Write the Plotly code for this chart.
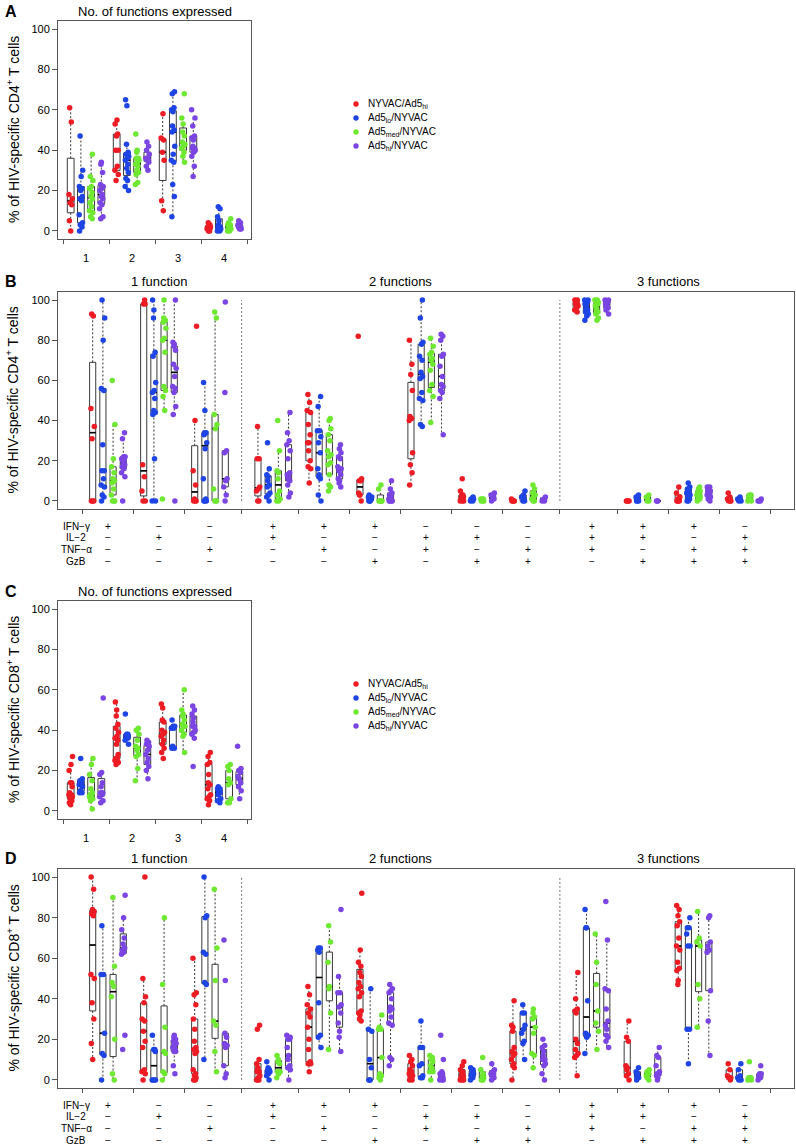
import numpy as np
import plotly.graph_objects as go

FONT = "Liberation Sans, Arial, Helvetica, sans-serif"

# ---------------- data ----------------
series_names = ["NYVAC/Ad5<sub>hi</sub>", "Ad5<sub>lo</sub>/NYVAC",
                "Ad5<sub>med</sub>/NYVAC", "Ad5<sub>hi</sub>/NYVAC"]
series_colors = ["#EC1C24", "#1F44E4", "#6FE831", "#7B45E2"]

n_functions = ["1", "2", "3", "4"]
section_titles = ["1 function", "2 functions", "3 functions"]
section_sizes = [3, 6, 4]
cytokines = ["IFN−γ", "IL−2", "TNF−α", "GzB"]
combo_IFNg = ["+", "−", "−", "+", "+", "+", "−", "−", "−", "+", "+", "+", "−"]
combo_IL2 = ["−", "+", "−", "+", "−", "−", "+", "+", "−", "+", "+", "−", "+"]
combo_TNFa = ["−", "−", "+", "−", "+", "−", "+", "−", "+", "+", "−", "+", "+"]
combo_GzB = ["−", "−", "−", "−", "−", "+", "−", "+", "+", "−", "+", "+", "+"]

# Panel A: CD4, number of functions
A_NYVAC_Ad5hi = [[0, 5, 13, 14, 16, 18, 54, 61], [25, 28, 30, 32, 40, 40, 47, 48, 53, 55],
                 [10, 15, 35, 39, 45, 46, 58], [0, 0, 1, 1, 2, 2, 3, 4]]
A_Ad5lo_NYVAC = [[0, 2, 3, 4, 8, 15, 16, 17, 20, 21, 22, 27, 30, 47],
                 [20, 22, 25, 26, 29, 31, 33, 35, 36, 37, 38, 39, 43, 62, 65],
                 [7, 17, 23, 34, 35, 38, 42, 49, 50, 52, 59, 60, 61, 68, 69],
                 [0, 0, 1, 1, 2, 2, 3, 5, 7, 11, 12]]
A_Ad5med_NYVAC = [[6, 7, 9, 10, 12, 14, 16, 17, 19, 21, 22, 25, 27, 38],
                  [23, 24, 28, 29, 30, 32, 33, 34, 35, 36, 36, 39, 40, 48],
                  [34, 37, 39, 41, 42, 43, 44, 47, 49, 53, 56, 68],
                  [0, 0, 1, 1, 2, 2, 2, 3, 3, 4, 6]]
A_Ad5hi_NYVAC = [[6, 7, 11, 13, 14, 16, 17, 18, 20, 21, 22, 23, 29, 33, 34],
                 [30, 32, 34, 35, 35, 36, 36, 38, 40, 42, 44],
                 [27, 32, 37, 39, 40, 41, 41, 42, 45, 46, 47, 52, 56, 60],
                 [1, 1, 2, 2, 2, 3, 3, 4, 5]]

# Panel B: CD4, functional combinations
B_NYVAC_Ad5hi = [[0, 0, 0, 31, 37, 46, 92, 93], [0, 0, 5, 12, 18, 98, 98, 100],
                 [0, 0, 0, 1, 8, 15, 40, 87], [0, 0, 5, 6, 7, 21, 21, 37],
                 [9, 16, 17, 20, 25, 29, 29, 33, 38, 44, 45, 49, 53],
                 [0, 3, 3, 4, 10, 10, 11, 82], [8, 14, 18, 24, 40, 41, 42, 55, 63, 68, 80],
                 [0, 0, 0, 1, 2, 3, 3, 5, 11], [0, 0, 0, 0, 1],
                 [94, 95, 96, 97, 98, 98, 99, 99, 100, 100], [0, 0, 0, 0],
                 [0, 0, 0, 0, 1, 2, 4, 7], [0, 0, 0, 1, 2, 4]]
B_Ad5lo_NYVAC = [[0, 2, 3, 7, 8, 11, 15, 15, 28, 55, 56, 80, 91, 100],
                 [0, 0, 21, 43, 44, 45, 51, 54, 55, 59, 72, 74, 91, 95, 100],
                 [0, 0, 0, 1, 11, 26, 29, 33, 34, 34, 45, 59],
                 [0, 2, 3, 4, 7, 8, 10, 12, 13, 16, 29],
                 [0, 3, 11, 12, 13, 16, 24, 29, 32, 35, 35, 47, 52],
                 [0, 0, 0, 1, 1, 2, 2, 2, 3],
                 [37, 38, 50, 51, 54, 61, 62, 64, 70, 72, 78, 79, 91, 100],
                 [0, 0, 1, 1, 1, 2], [0, 0, 1, 2, 3, 5],
                 [90, 92, 93, 94, 95, 96, 97, 98, 99, 99, 100, 100],
                 [0, 0, 0, 1, 2, 3], [0, 0, 1, 2, 3, 4, 5, 6, 7, 9], [0, 0, 1, 2]]
B_Ad5med_NYVAC = [[0, 0, 0, 3, 6, 9, 10, 11, 14, 17, 21, 38, 60],
                  [1, 45, 52, 55, 57, 74, 80, 81, 86, 89, 90, 91, 100],
                  [0, 0, 0, 6, 36, 38, 43, 91, 94], [0, 0, 1, 3, 5, 11, 14, 15, 25, 40],
                  [5, 7, 8, 13, 18, 19, 22, 23, 25, 30, 33, 36, 40, 41],
                  [0, 0, 0, 0, 0, 6, 8],
                  [39, 52, 55, 58, 65, 68, 70, 71, 73, 74, 77, 81],
                  [0, 0, 0, 1, 1, 1], [0, 0, 1, 2, 3, 4, 6, 8],
                  [90, 91, 93, 94, 95, 96, 97, 98, 98, 99, 100, 100],
                  [0, 0, 1, 2, 3], [0, 1, 1, 2, 3, 4, 4, 5, 6, 7], [0, 0, 1, 2, 3, 3]]
B_Ad5hi_NYVAC = [[0, 12, 14, 16, 17, 18, 19, 20, 21, 22, 22, 31, 34],
                 [0, 43, 47, 54, 56, 57, 62, 66, 68, 75, 77, 78, 79, 100],
                 [0, 3, 7, 10, 11, 24, 25, 54, 99],
                 [2, 4, 8, 10, 11, 12, 13, 14, 21, 25, 28, 30, 34, 44],
                 [7, 9, 10, 11, 13, 15, 16, 17, 21, 22, 24, 26, 28],
                 [0, 0, 0, 0, 1, 2, 3, 4, 6, 10],
                 [33, 51, 54, 55, 57, 58, 62, 67, 72, 73, 80, 82, 83],
                 [0, 1, 1, 2, 3, 3, 4], [0, 0, 1, 2],
                 [93, 95, 96, 97, 98, 98, 99, 99, 100, 100], [0, 0, 0],
                 [0, 1, 2, 3, 4, 5, 5, 6, 7, 7], [0, 0, 0, 1]]

# Panel C: CD8, number of functions
C_NYVAC_Ad5hi = [[3, 4, 5, 6, 7, 8, 8, 9, 12, 14, 14, 20, 23, 27],
                 [23, 24, 25, 26, 26, 28, 33, 35, 36, 37, 39, 41, 43, 47, 50, 54],
                 [26, 29, 31, 33, 35, 37, 38, 39, 40, 44, 45, 51, 53],
                 [3, 5, 6, 7, 8, 11, 13, 14, 18, 23, 24, 27, 29]]
C_Ad5lo_NYVAC = [[9, 9, 10, 12, 13, 14, 15, 16, 26], [33, 35, 36, 37, 37, 38, 38, 48],
                 [31, 31, 32, 41, 41, 42, 42, 45], [4, 5, 5, 6, 8, 9, 10, 10, 11, 11, 12]]
C_Ad5med_NYVAC = [[1, 5, 6, 7, 8, 8, 9, 11, 15, 18, 23, 26],
                  [15, 21, 27, 28, 30, 31, 32, 35, 38, 40, 41],
                  [29, 37, 38, 40, 42, 42, 43, 45, 47, 48, 50, 60],
                  [4, 4, 6, 13, 14, 16, 20, 22, 23]]
C_Ad5hi_NYVAC = [[4, 5, 7, 8, 9, 9, 12, 14, 18, 19, 56],
                 [16, 20, 22, 24, 26, 28, 30, 32, 33, 34, 35],
                 [22, 36, 38, 39, 40, 42, 42, 44, 46, 48, 50, 52],
                 [6, 10, 12, 14, 16, 16, 17, 19, 20, 21, 32]]

# Panel D: CD8, functional combinations
D_NYVAC_Ad5hi = [[10, 18, 30, 38, 50, 52, 81, 82, 83, 84, 94, 100],
                 [0, 3, 4, 5, 16, 19, 24, 29, 30, 38, 41, 50, 100],
                 [0, 0, 1, 2, 3, 5, 13, 14, 15, 16, 19, 25, 30, 37, 42, 43, 60],
                 [0, 0, 0, 1, 2, 4, 4, 5, 6, 8, 10, 25, 27],
                 [4, 8, 8, 9, 15, 20, 26, 31, 33, 35, 37, 42, 46],
                 [29, 30, 32, 33, 34, 41, 43, 45, 46, 48, 51, 53, 56, 58, 64, 92],
                 [0, 0, 1, 2, 3, 4, 5, 7, 9, 10, 12], [0, 0, 0, 1, 2, 3, 4, 5, 7, 9],
                 [0, 6, 7, 8, 10, 12, 13, 14, 16, 24, 26, 27, 39],
                 [2, 11, 12, 13, 15, 18, 20, 33, 34, 35, 40, 53],
                 [0, 2, 3, 5, 6, 7, 19, 21, 29],
                 [47, 49, 54, 55, 58, 64, 66, 70, 76, 78, 81, 84, 86], [0, 1, 1, 2, 5, 8]]
D_Ad5lo_NYVAC = [[0, 12, 13, 23, 52, 52, 76], [0, 0, 0, 0, 14, 15, 15, 22],
                 [10, 47, 48, 62, 63, 80, 81, 100], [0, 2, 3, 4, 4, 5, 5, 6, 9],
                 [16, 21, 22, 38, 63, 64, 65, 65], [0, 0, 0, 6, 10, 24, 25, 45],
                 [1, 1, 2, 7, 8, 16, 16, 29], [0, 1, 2, 3, 4, 5, 6],
                 [10, 18, 19, 23, 25, 27, 33, 33, 37], [13, 21, 22, 23, 39, 75, 75, 84],
                 [0, 1, 2, 3, 4, 6], [8, 25, 25, 66, 66, 72, 75, 75, 80], [0, 0, 1, 2, 5, 8]]
D_Ad5med_NYVAC = [[0, 3, 20, 41, 46, 48, 56, 90], [0, 3, 4, 13, 14, 26, 47, 80],
                  [4, 14, 27, 29, 49, 65, 94], [1, 3, 4, 4, 8, 9, 10, 12],
                  [15, 33, 45, 46, 58, 68, 76], [0, 1, 2, 3, 11, 25, 25, 26, 32],
                  [0, 4, 4, 6, 7, 9, 10, 11, 12], [0, 0, 1, 2, 3, 5, 11],
                  [6, 12, 13, 23, 26, 30, 31, 33, 35], [15, 24, 28, 34, 47, 58, 72],
                  [0, 1, 2, 2, 3, 4, 5], [26, 40, 47, 66, 68, 70, 83], [0, 0, 1, 1, 1, 9]]
D_Ad5hi_NYVAC = [[15, 22, 62, 63, 64, 65, 67, 70, 74, 80, 91],
                 [3, 7, 14, 14, 15, 16, 17, 18, 19, 20, 21, 22],
                 [1, 3, 7, 16, 17, 18, 21, 23, 49, 69],
                 [0, 5, 6, 7, 10, 12, 16, 20, 20, 21, 22],
                 [14, 21, 24, 28, 33, 36, 37, 43, 43, 51, 84],
                 [7, 10, 11, 27, 28, 31, 34, 35, 36, 40, 43, 44, 45, 47],
                 [0, 0, 0, 1, 1, 2, 3, 3, 4, 10, 22], [0, 1, 2, 3, 3, 4, 5, 8],
                 [0, 3, 7, 8, 10, 10, 12, 14, 16, 17, 20],
                 [16, 19, 21, 22, 25, 27, 29, 35, 44, 45, 69, 88],
                 [0, 1, 2, 3, 3, 4, 7, 11, 12, 16],
                 [12, 29, 44, 63, 64, 66, 68, 80, 81], [0, 1, 2, 3, 3, 7]]

# ---------------- layout helpers ----------------
W, H = 796, 1146
def fx(px):
    return px / W
def fy(py):
    return 1 - py / H

FRAME = "#555555"
BOXLINE = "#3a3a3a"
JIT = [0.0, -0.13, 0.11, -0.06, 0.16, -0.17, 0.06, -0.1, 0.14, -0.02, 0.09,
       -0.15, 0.03, 0.18, -0.08, 0.12, -0.04]
OFFS = [-1.5, -0.5, 0.5, 1.5]

def fivenum(v):
    v = sorted(v)
    n = len(v)
    n4 = np.floor((n + 3) / 2) / 2
    d = [1, n4, (n + 1) / 2, n + 1 - n4, n]
    return [0.5 * (v[int(np.floor(t)) - 1] + v[int(np.ceil(t)) - 1]) for t in d]

fig = go.Figure()
annotations = []
shapes = []

def add_panel(idx, series, centers, box_w):
    xa = "x" if idx == 1 else f"x{idx}"
    ya = "y" if idx == 1 else f"y{idx}"
    pos, q1s, meds, q3s = [], [], [], []
    wx, wy, mx, my = [], [], [], []
    pts = []
    for s, data in enumerate(series):
        px_, py_ = [], []
        for g, vals in enumerate(data):
            p = centers[g] + OFFS[s]
            _, q1, med, q3, _ = fivenum(vals)
            iqr = q3 - q1
            lo = min(v for v in vals if v >= q1 - 1.5 * iqr)
            hi = max(v for v in vals if v <= q3 + 1.5 * iqr)
            pos.append(p); q1s.append(q1); meds.append(med); q3s.append(q3)
            wx += [p, p, None, p, p, None]
            wy += [q1, lo, None, q3, hi, None]
            mx += [p - box_w / 2, p + box_w / 2, None]
            my += [med, med, None]
            for i, v in enumerate(sorted(vals)):
                px_.append(p + JIT[(i + 3 * g + s) % len(JIT)])
                py_.append(v)
        pts.append((px_, py_))
    fig.add_trace(go.Scatter(x=wx, y=wy, mode="lines", xaxis=xa, yaxis=ya,
                             line=dict(color="#333333", width=1, dash="2px,2px"),
                             hoverinfo="skip", showlegend=False))
    fig.add_trace(go.Box(x=pos, q1=q1s, median=meds, q3=q3s, lowerfence=q1s,
                         upperfence=q3s, width=box_w, xaxis=xa, yaxis=ya,
                         boxpoints=False, fillcolor="rgba(0,0,0,0)",
                         line=dict(color=BOXLINE, width=1), whiskerwidth=0,
                         hoverinfo="skip", showlegend=False))
    fig.add_trace(go.Scatter(x=mx, y=my, mode="lines", xaxis=xa, yaxis=ya,
                             line=dict(color="black", width=1.6),
                             hoverinfo="skip", showlegend=False))
    for s, (px_, py_) in enumerate(pts):
        fig.add_trace(go.Scatter(x=px_, y=py_, mode="markers", xaxis=xa, yaxis=ya,
                                 name=series_names[s],
                                 marker=dict(color=series_colors[s], size=5.5, line=dict(width=0)),
                                 hoverinfo="skip", showlegend=False))

def axis_common(domain_x, domain_y, xr, ticks, anchor_x, anchor_y):
    xa = dict(domain=domain_x, range=xr, showline=True, mirror=True, linecolor=FRAME,
              linewidth=1, ticks="outside", ticklen=4, tickcolor=FRAME,
              tickmode="array", tickvals=ticks, showticklabels=False,
              showgrid=False, zeroline=False, anchor=anchor_y, fixedrange=True)
    ya = dict(domain=domain_y, range=[-4, 104], showline=True, mirror=True,
              linecolor=FRAME, linewidth=1, ticks="outside", ticklen=5, tickcolor=FRAME,
              tickmode="array", tickvals=[0, 20, 40, 60, 80, 100],
              ticktext=["0", "20", "40", "60", "80", "100"],
              tickfont=dict(family=FONT, size=11, color="black"),
              showgrid=False, zeroline=False, anchor=anchor_x, fixedrange=True)
    return xa, ya

# geometry (pixels)
geo = {1: (58, 251, 21, 239), 2: (58, 794, 292, 509),
       3: (58, 251, 601, 819), 4: (58, 794, 869, 1088)}

# Panels A / C positions
A_centers = [4.5 * g for g in range(len(n_functions))]
A_ticks = [A_centers[0] - 2.25] + [c + 2.25 for c in A_centers]
A_range = [-2.74, 16.14]

# Panels B / D positions
B_centers, seps = [], []
start = 0.0
for k, sz in enumerate(section_sizes):
    for j in range(sz):
        B_centers.append(start + 5 * j)
    if k < len(section_sizes) - 1:
        nxt = B_centers[-1] + 6.2
        seps.append((B_centers[-1] + nxt) / 2)
        start = nxt
B_ticks = [B_centers[0] - 2.5] + [(B_centers[i] + B_centers[i + 1]) / 2
                                   for i in range(len(B_centers) - 1)] + [B_centers[-1] + 2.5]
B_range = [-4.9, 67.25]

layout_axes = {}
for idx in (1, 2, 3, 4):
    x0, x1, y0, y1 = geo[idx]
    if idx in (1, 3):
        xr, tk = A_range, A_ticks
    else:
        xr, tk = B_range, B_ticks
    xname = "x" if idx == 1 else f"x{idx}"
    yname = "y" if idx == 1 else f"y{idx}"
    xa, ya = axis_common([fx(x0), fx(x1)], [fy(y1), fy(y0)], xr, tk, xname, yname)
    layout_axes["xaxis" if idx == 1 else f"xaxis{idx}"] = xa
    layout_axes["yaxis" if idx == 1 else f"yaxis{idx}"] = ya

add_panel(1, [A_NYVAC_Ad5hi, A_Ad5lo_NYVAC, A_Ad5med_NYVAC, A_Ad5hi_NYVAC], A_centers, 0.66)
add_panel(2, [B_NYVAC_Ad5hi, B_Ad5lo_NYVAC, B_Ad5med_NYVAC, B_Ad5hi_NYVAC], B_centers, 0.6)
add_panel(3, [C_NYVAC_Ad5hi, C_Ad5lo_NYVAC, C_Ad5med_NYVAC, C_Ad5hi_NYVAC], A_centers, 0.66)
add_panel(4, [D_NYVAC_Ad5hi, D_Ad5lo_NYVAC, D_Ad5med_NYVAC, D_Ad5hi_NYVAC], B_centers, 0.6)

def ann(text, x, y, size, xref="paper", yref="paper", xanchor="center", yanchor="middle",
        angle=0, bold=False):
    annotations.append(dict(text=f"<b>{text}</b>" if bold else text, x=x, y=y, xref=xref,
                            yref=yref, xanchor=xanchor, yanchor=yanchor, showarrow=False,
                            textangle=angle, font=dict(family=FONT, size=size, color="black")))

# panel letters
for letter, (lx, ly) in zip("ABCD", [(11, 11), (11, 281), (11, 591), (11, 859)]):
    ann(letter, fx(lx), fy(ly), 16, bold=True)

# titles
ann("No. of functions expressed", fx(154.5), fy(11), 13)
ann("No. of functions expressed", fx(154.5), fy(591), 13)

# section titles for B and D
sec_first = 0
for k, sz in enumerate(section_sizes):
    cx = (B_centers[sec_first] + B_centers[sec_first + sz - 1]) / 2
    ann(section_titles[k], cx, fy(281), 13, xref="x2")
    ann(section_titles[k], cx, fy(859), 13, xref="x4")
    sec_first += sz

# y titles
ann("% of HIV-specific CD4<sup>+</sup> T cells", fx(13), fy((21 + 239) / 2), 14, angle=-90)
ann("% of HIV-specific CD4<sup>+</sup> T cells", fx(13), fy((292 + 509) / 2), 14, angle=-90)
ann("% of HIV-specific CD8<sup>+</sup> T cells", fx(13), fy((601 + 819) / 2), 14, angle=-90)
ann("% of HIV-specific CD8<sup>+</sup> T cells", fx(13), fy((869 + 1088) / 2), 14, angle=-90)

# x labels A / C
for g, lab in enumerate(n_functions):
    ann(lab, A_centers[g], fy(258), 11, xref="x")
    ann(lab, A_centers[g], fy(838), 11, xref="x3")

# combination rows for B and D
rows = [combo_IFNg, combo_IL2, combo_TNFa, combo_GzB]
for base, xref in ((509, "x2"), (1088, "x4")):
    for r, (name, signs) in enumerate(zip(cytokines, rows)):
        yy = base + 17 + r * 11.8
        ann(name, fx(76), fy(yy), 10)
        for g, sgn in enumerate(signs):
            ann(sgn, B_centers[g], fy(yy), 10, xref=xref)

# separators
for xref, yref in (("x2", "y2"), ("x4", "y4")):
    for sx in seps:
        shapes.append(dict(type="line", xref=xref, yref=yref, x0=sx, x1=sx, y0=0, y1=100,
                           line=dict(color="#777777", width=1, dash="2px,2px"), layer="below"))

# legends (beside A and C)
for top in (104, 684):
    for s in range(4):
        yy = top + 14 * s
        r = 2.7
        shapes.append(dict(type="circle", xref="paper", yref="paper",
                           x0=fx(356 - r), x1=fx(356 + r), y0=fy(yy + r), y1=fy(yy - r),
                           fillcolor=series_colors[s], line=dict(width=0)))
        ann(series_names[s], fx(366), fy(yy), 10, xanchor="left")

fig.update_layout(width=W, height=H, margin=dict(l=0, r=0, t=0, b=0),
                  paper_bgcolor="white", plot_bgcolor="white", showlegend=False,
                  boxmode="overlay", annotations=annotations, shapes=shapes,
                  font=dict(family=FONT, size=11, color="black"), **layout_axes)

fig.write_html("out.html", config={"displayModeBar": False, "staticPlot": True},
               post_script="document.body.style.margin='0';document.body.style.overflow='hidden';")
